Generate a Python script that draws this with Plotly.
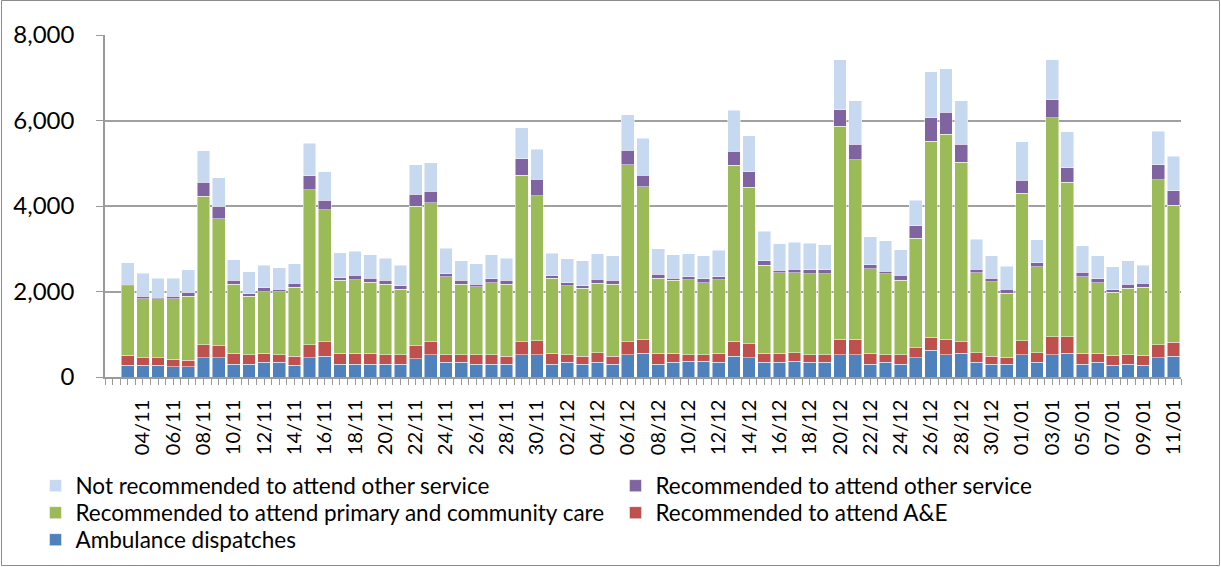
import plotly.graph_objects as go

dates = ["03/11","04/11","05/11","06/11","07/11","08/11","09/11","10/11","11/11","12/11",
         "13/11","14/11","15/11","16/11","17/11","18/11","19/11","20/11","21/11","22/11",
         "23/11","24/11","25/11","26/11","27/11","28/11","29/11","30/11","01/12","02/12",
         "03/12","04/12","05/12","06/12","07/12","08/12","09/12","10/12","11/12","12/12",
         "13/12","14/12","15/12","16/12","17/12","18/12","19/12","20/12","21/12","22/12",
         "23/12","24/12","25/12","26/12","27/12","28/12","29/12","30/12","31/12","01/01",
         "02/01","03/01","04/01","05/01","06/01","07/01","08/01","09/01","10/01","11/01"]

ambulance = [270,270,270,240,240,450,450,300,300,340,340,270,450,480,300,300,300,300,300,430,
             520,340,340,300,300,300,520,520,300,340,300,340,300,520,550,300,340,370,370,340,
             480,450,340,340,370,340,340,520,520,300,340,300,450,630,520,550,340,300,300,520,
             340,520,550,300,340,270,300,270,450,480]
ae = [240,180,180,180,150,310,280,250,220,210,180,210,310,340,250,250,250,220,220,300,
      300,180,180,220,220,190,300,330,250,180,190,230,190,300,330,250,210,150,150,210,
      360,330,210,210,200,180,180,360,360,250,180,220,240,300,360,270,230,190,160,330,
      230,420,390,250,210,240,220,240,300,330]
primary = [1620,1380,1380,1410,1500,3470,2970,1620,1370,1440,1470,1620,3620,3090,1710,1730,1670,1650,1530,3270,
           3260,1830,1650,1590,1680,1680,3900,3390,1760,1620,1590,1620,1680,4150,3570,1760,1710,1760,1680,1730,
           4110,3660,2070,1890,1870,1890,1890,4980,4200,1980,1890,1740,2550,4590,4800,4200,1870,1740,1500,3450,
           2010,5130,3620,1800,1650,1470,1560,1590,3860,3210]
other_rec = [40,55,30,55,95,330,300,95,60,95,60,95,330,230,60,95,95,95,85,270,
             270,60,95,60,95,95,390,390,60,60,55,95,95,330,270,95,55,60,95,60,
             330,360,95,60,85,95,95,390,360,95,60,120,300,540,510,420,85,85,95,300,
             95,410,340,95,95,60,85,95,360,340]
not_rec = [500,540,450,420,520,730,660,480,510,530,500,450,760,660,590,570,540,510,480,690,
           660,600,450,480,570,510,720,700,520,570,580,600,570,840,870,600,550,540,540,630,
           960,840,690,620,630,620,590,1170,1020,660,720,600,590,1080,1020,1020,700,520,540,900,
           540,940,840,620,540,540,550,420,780,800]

# (name, values, colour, legend id)
series = [
    ("Ambulance dispatches", ambulance, "#4F81BD", "legend5"),
    ("Recommended to attend A&E", ae, "#C0504D", "legend4"),
    ("Recommended to attend primary and community care", primary, "#9BBB59", "legend3"),
    ("Recommended to attend other service", other_rec, "#8064A2", "legend2"),
    ("Not recommended to attend other service", not_rec, "#C6D9F1", "legend"),
]

xpos = list(range(len(dates)))
label_pos = xpos[1::2]
label_txt = dates[1::2]
minor_vals = [i * 0.5 - 1.5 for i in range(2 * (len(dates) + 1) + 1)]

fig = go.Figure()
for name, vals, col, lg in series:
    fig.add_trace(go.Bar(x=xpos, y=vals, name=name, marker_color=col, legend=lg,
                         marker_line=dict(width=0.6, color="rgba(255,255,255,0.8)")))

FONT = "Lato, 'Open Sans', sans-serif"
PX_L, PX_R, PX_T, PX_B = 105, 1181, 35, 377
PW, PH = PX_R - PX_L, PX_B - PX_T


def px_x(p):
    return (p - PX_L) / PW


def px_y(p):
    return (PX_B - p) / PH


def leg(text_x, row_y):
    return dict(x=px_x(text_x - 41.5), xanchor="left", y=px_y(row_y), yanchor="middle",
                font=dict(size=22.5, family=FONT, color="black"), bgcolor="rgba(0,0,0,0)",
                itemclick=False, itemdoubleclick=False)


fig.update_layout(
    barmode="stack", bargap=0.16,
    width=1221, height=567,
    margin=dict(l=PX_L, r=1221 - PX_R, t=PX_T, b=567 - PX_B, autoexpand=False),
    paper_bgcolor="white", plot_bgcolor="white",
    font=dict(family=FONT, color="black"),
    showlegend=True,
    legend=leg(77, 486),
    legend2=leg(657, 486),
    legend3=leg(77, 513),
    legend4=leg(657, 513),
    legend5=leg(77, 540),
    xaxis=dict(range=[-1.5, len(dates) - 0.5], tickmode="array", tickvals=label_pos,
               ticktext=label_txt, tickangle=-90, tickfont=dict(size=20),
               showgrid=False, showline=True, linecolor="#9a9a9a", linewidth=1.5,
               ticks="outside", ticklen=6, tickcolor="#9a9a9a", tickwidth=1,
               ticklabelstandoff=7, automargin=False,
               minor=dict(tickmode="array", tickvals=minor_vals, ticks="outside",
                          ticklen=6, tickcolor="#9a9a9a", tickwidth=1),
               zeroline=False, fixedrange=True),
    yaxis=dict(range=[0, 8000], dtick=2000, tickformat=",", tickfont=dict(size=24),
               showgrid=True, gridcolor="#a0a0a0", gridwidth=1.5,
               showline=True, linecolor="#9a9a9a", linewidth=1.5,
               ticks="outside", ticklen=7, tickcolor="#9a9a9a", automargin=False,
               ticklabelstandoff=17, zeroline=False, fixedrange=True),
)

fig.add_shape(type="rect", xref="paper", yref="paper",
              x0=px_x(1.5), x1=px_x(1219.5), y0=px_y(565.5), y1=px_y(0.5),
              line=dict(color="#8c8c8c", width=1), fillcolor="rgba(0,0,0,0)", layer="below")

fig.write_html("out.html")
